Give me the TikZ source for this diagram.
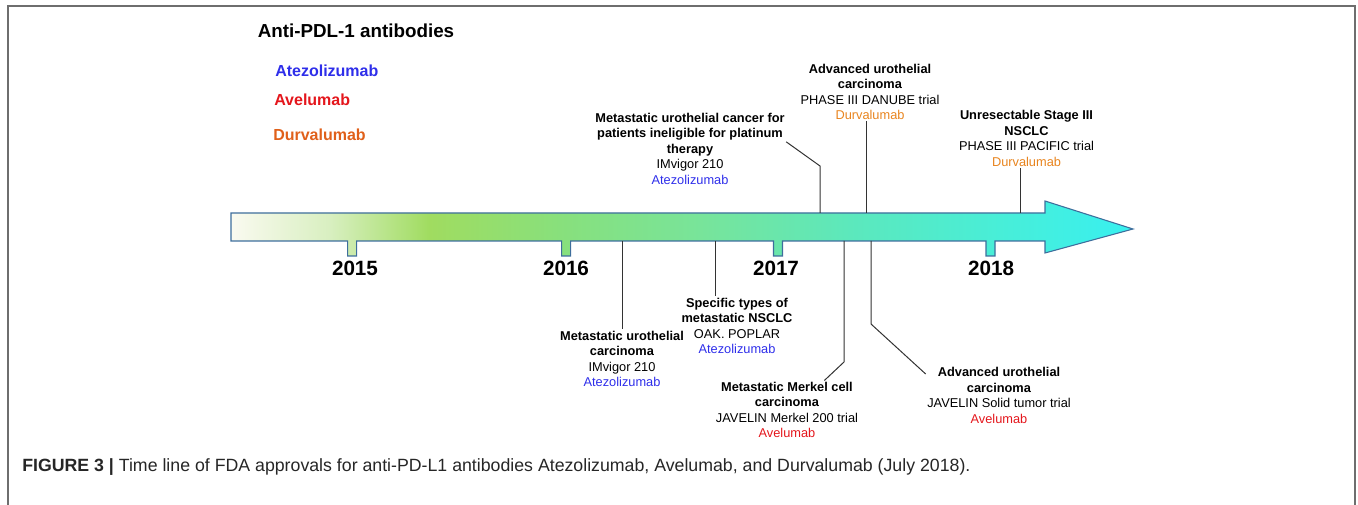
\documentclass[tikz,border=0pt]{standalone}
\usepackage{fontspec}
\setmainfont{Liberation Sans}
\usetikzlibrary{positioning}
\definecolor{atezo}{HTML}{2E2EEA}
\definecolor{avelu}{HTML}{E4161C}
\definecolor{durva}{HTML}{E8841E}
\definecolor{durvaleg}{HTML}{E0601A}
\definecolor{arrowline}{HTML}{3E6E9C}
\definecolor{framegray}{HTML}{6E6E6E}
\definecolor{tl0}{HTML}{FAFAF0}
\definecolor{tl1}{HTML}{D8EFC0}
\definecolor{tl2}{HTML}{A0DC60}
\definecolor{tl3}{HTML}{88E07C}
\definecolor{tl4}{HTML}{78E49A}
\definecolor{tl5}{HTML}{5CE8BC}
\definecolor{tl6}{HTML}{48EED8}
\definecolor{tl7}{HTML}{38F0F0}
\pgfdeclarehorizontalshading{timeshade}{100bp}{color(0bp)=(tl0); color(25bp)=(tl0);
  color(30.5bp)=(tl1); color(36bp)=(tl2); color(43.2bp)=(tl3); color(51bp)=(tl4);
  color(59.3bp)=(tl5); color(67.6bp)=(tl6); color(75bp)=(tl7); color(100bp)=(tl7)}

\begin{document}
\begin{tikzpicture}[x=0.75pt,y=-0.75pt,
  evt/.style={align=center,font=\fontsize{9.6}{11.6}\selectfont,inner sep=1pt},
  yr/.style={font=\fontsize{15.5}{18}\selectfont\bfseries},
  leg/.style={font=\fontsize{12}{14}\selectfont\bfseries,inner sep=0pt,anchor=west},
  pin/.style={draw=black!80,line width=0.75pt}]
\useasboundingbox (0,0) rectangle (1358,505);
% frame, open at the bottom
\draw[framegray,line width=1.5pt] (7.5,505) -- (7.5,6.5) -- (1355,6.5) -- (1355,505);

% legend
\node (title) [font=\fontsize{14.1}{16}\selectfont\bfseries] at (356,31) {Anti-PDL-1 antibodies};
\node (ate) [leg,atezo] at (275,71) {Atezolizumab};
\node (ave) [leg,avelu] at (274,100) {Avelumab};
\node (dur) [leg,durvaleg] at (273,135) {Durvalumab};

% time arrow with year tabs
\shade[shading=timeshade,draw=arrowline,line width=0.8pt]
  (231,213) -- (1045,213) -- (1045,201) -- (1133,229) -- (1045,253) -- (1045,241)
  \foreach \tx in {990.5,778,566.2,352.2} {
    -- (\tx+4.5,241) -- (\tx+4.5,256) -- (\tx-4.5,256) -- (\tx-4.5,241)}
  -- (231,241) -- cycle;
\foreach \tx/\yr in {355/2015,566/2016,776/2017,991/2018}
  \node (y\yr) [yr] at (\tx,268) {\yr};

% points on the arrow
\coordinate (a1) at (820,213);
\coordinate (a2) at (866.7,213);
\coordinate (a3) at (1020.7,213);
\coordinate (b1) at (622,241);
\coordinate (b2) at (715,241);
\coordinate (b3) at (844,241);
\coordinate (b4) at (871,241);
\coordinate (a1k) at (820,166);
\coordinate (b3k) at (844,362);
\coordinate (b4k) at (871,324);

% approvals above
\node (u1) [evt] at (690,148.5) {\textbf{Metastatic urothelial cancer for}\\\textbf{patients ineligible for platinum}\\\textbf{therapy}\\IMvigor 210\\\textcolor{atezo}{Atezolizumab}};
\node (u2) [evt] at (870,92) {\textbf{Advanced urothelial}\\\textbf{carcinoma}\\PHASE III DANUBE trial\\\textcolor{durva}{Durvalumab}};
\node (u3) [evt] at (1026.5,138.5) {\textbf{Unresectable Stage III}\\\textbf{NSCLC}\\PHASE III PACIFIC trial\\\textcolor{durva}{Durvalumab}};

% approvals below
\node (e1) [evt] at (622,359) {\textbf{Metastatic urothelial}\\\textbf{carcinoma}\\IMvigor 210\\\textcolor{atezo}{Atezolizumab}};
\node (e2) [evt] at (737,326) {\textbf{Specific types of}\\\textbf{metastatic NSCLC}\\OAK. POPLAR\\\textcolor{atezo}{Atezolizumab}};
\node (e3) [evt] at (787,410) {\textbf{Metastatic Merkel cell}\\\textbf{carcinoma}\\JAVELIN Merkel 200 trial\\\textcolor{avelu}{Avelumab}};
\node (e4) [evt] at (999,395.5) {\textbf{Advanced urothelial}\\\textbf{carcinoma}\\JAVELIN Solid tumor trial\\\textcolor{avelu}{Avelumab}};

% pins
\draw[pin] (a1) -- (a1k) -- ([yshift=5pt]u1.east);
\draw[pin] (a2) -- (a2 |- u2.south);
\draw[pin] (a3) -- (a3 |- u3.south);
\draw[pin] (b1) -- (e1.north);
\draw[pin] (b2) -- (b2 |- e2.north);
\draw[pin] (b3) -- (b3k) -- ([xshift=28pt]e3.north);
\draw[pin] (b4) -- (b4k) -- ([yshift=-6pt]e4.north west);

% caption
\node (cap) [anchor=west,font=\fontsize{13.3}{15}\selectfont,text=black!85,inner sep=0pt] at (22,467)
  {\textbf{FIGURE 3 |} Time line of FDA approvals for anti-PD-L1 antibodies Atezolizumab, Avelumab, and Durvalumab (July 2018).};
\end{tikzpicture}
\end{document}
